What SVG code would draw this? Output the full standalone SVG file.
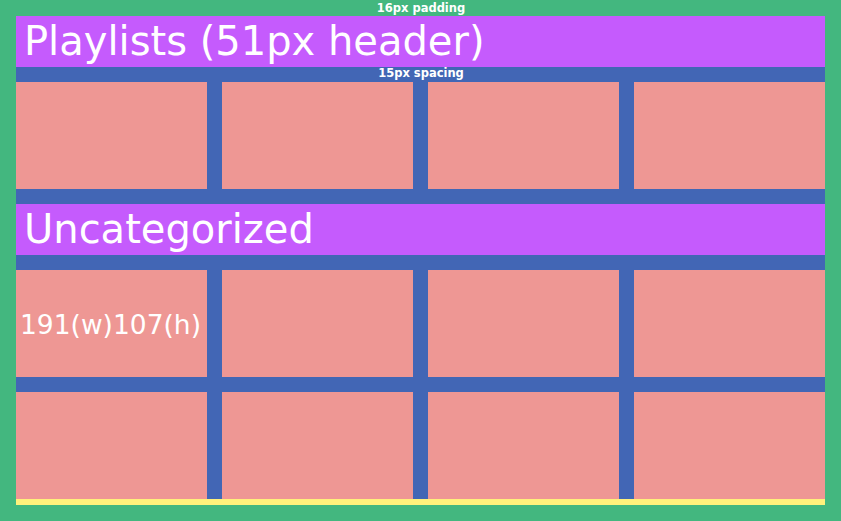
<svg xmlns="http://www.w3.org/2000/svg" width="841" height="521" viewBox="0 0 841 521">
<style>
.card{fill:#ee9794}
.hdr{fill:#c55bfd}
.ht{font-family:"DejaVu Sans",Verdana,sans-serif;font-size:40px;fill:#ffffff}
.sm{font-family:"DejaVu Sans",Verdana,sans-serif;font-size:11.5px;font-weight:bold;fill:#ffffff;text-anchor:middle}
</style>
<rect x="0" y="0" width="841" height="521" fill="#43b77f"/>
<rect x="16" y="16" width="809" height="483" fill="#4266b5"/>
<rect x="16" y="499" width="809" height="6" fill="#fff17c"/>
<text class="sm" x="421" y="12">16px padding</text>
<g id="header-playlists">
<rect class="hdr" x="16" y="16" width="809" height="51"/>
<text class="ht" x="24" y="55">Playlists (51px header)</text>
</g>
<text class="sm" x="421" y="77">15px spacing</text>
<g id="card-1-1"><rect class="card" x="16" y="82" width="191" height="107"/></g>
<g id="card-1-2"><rect class="card" x="222" y="82" width="191" height="107"/></g>
<g id="card-1-3"><rect class="card" x="428" y="82" width="191" height="107"/></g>
<g id="card-1-4"><rect class="card" x="634" y="82" width="191" height="107"/></g>
<g id="header-uncategorized">
<rect class="hdr" x="16" y="204" width="809" height="51"/>
<text class="ht" x="24" y="243">Uncategorized</text>
</g>
<g id="card-2-1"><rect class="card" x="16" y="270" width="191" height="107"/>
<text x="20" y="334" font-family="DejaVu Sans,Verdana,sans-serif" font-size="26.5" fill="#ffffff">191(w)107(h)</text></g>
<g id="card-2-2"><rect class="card" x="222" y="270" width="191" height="107"/></g>
<g id="card-2-3"><rect class="card" x="428" y="270" width="191" height="107"/></g>
<g id="card-2-4"><rect class="card" x="634" y="270" width="191" height="107"/></g>
<g id="card-3-1"><rect class="card" x="16" y="392" width="191" height="107"/></g>
<g id="card-3-2"><rect class="card" x="222" y="392" width="191" height="107"/></g>
<g id="card-3-3"><rect class="card" x="428" y="392" width="191" height="107"/></g>
<g id="card-3-4"><rect class="card" x="634" y="392" width="191" height="107"/></g>
<g id="connectors"></g>
</svg>
